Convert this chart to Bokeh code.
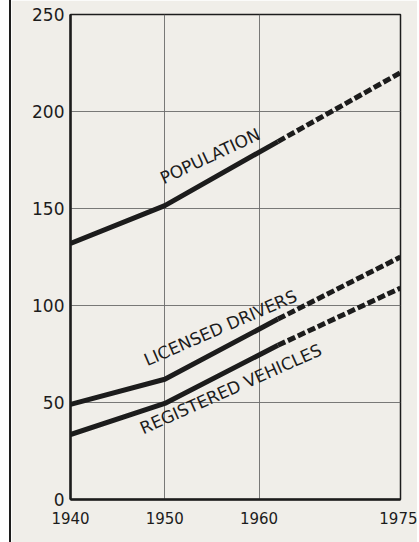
from bokeh.plotting import figure
from bokeh.models import Range1d, FixedTicker, ColumnDataSource
from bokeh.core.properties import value
from bokeh.embed import file_html
from bokeh.resources import INLINE
import math

# ---- data ----
hist_years = [1940, 1950, 1962]
proj_years = [1962, 1975]
population_hist = [132, 151.5, 184.5]
population_proj = [184.5, 220]
drivers_hist = [49, 62, 93]
drivers_proj = [93, 125]
vehicles_hist = [33.5, 49.5, 79.5]
vehicles_proj = [79.5, 109]

x_ticks = [1940, 1950, 1960, 1975]
y_ticks = [0, 50, 100, 150, 200, 250]

label_texts = ["POPULATION", "LICENSED DRIVERS", "REGISTERED VEHICLES"]
label_x = [1954.8, 1955.9, 1957.0]
label_y = [177, 88.5, 57]
label_angle_deg = [25, 23.5, 24]

BG = "#f0eee9"
INK = "#1c1c1c"

p = figure(width=408, height=542, output_backend="svg", toolbar_location=None,
           x_range=Range1d(1940, 1975), y_range=Range1d(0, 250),
           min_border_left=59, min_border_right=19, min_border_top=14, min_border_bottom=43,
           background_fill_color=BG, border_fill_color=BG)
p.styles = {"border-left": "2px solid #1c1c1c", "margin-left": "9px"}

p.outline_line_color = INK
p.outline_line_width = 1.5

for ax in (p.xaxis, p.yaxis):
    ax.axis_line_color = INK
    ax.axis_line_width = 2.5
    ax.major_tick_line_color = None
    ax.minor_tick_line_color = None
    ax.major_tick_out = 0
    ax.major_tick_in = 0
    ax.major_label_text_color = INK
    ax.major_label_text_font = "DejaVu Sans"

p.xaxis.ticker = FixedTicker(ticks=x_ticks)
p.yaxis.ticker = FixedTicker(ticks=y_ticks)
p.xaxis.major_label_text_font_size = "15px"
p.yaxis.major_label_text_font_size = "17px"
p.xaxis.major_label_standoff = 12
p.yaxis.major_label_standoff = 6

p.xgrid.ticker = FixedTicker(ticks=x_ticks)
p.ygrid.ticker = FixedTicker(ticks=y_ticks)
p.grid.grid_line_color = "#6a6a6a"
p.grid.grid_line_width = 1
p.grid.grid_line_alpha = 0.9

for h, pr in ((population_hist, population_proj),
              (drivers_hist, drivers_proj),
              (vehicles_hist, vehicles_proj)):
    p.line(hist_years, h, line_color=INK, line_width=5, line_join="round")
    p.line(proj_years, pr, line_color=INK, line_width=5, line_dash="8 3")

src = ColumnDataSource(dict(x=label_x, y=label_y, t=label_texts,
                            a=[math.radians(v) for v in label_angle_deg]))
p.text(x="x", y="y", text="t", angle="a", source=src,
       text_font=value("DejaVu Sans"), text_font_size="17px",
       text_color=INK, text_align="center", text_baseline="middle")

html = file_html(p, INLINE)
html = html.replace("<body>", '<body style="background:%s">' % BG, 1)
open("out.html", "w").write(html)
